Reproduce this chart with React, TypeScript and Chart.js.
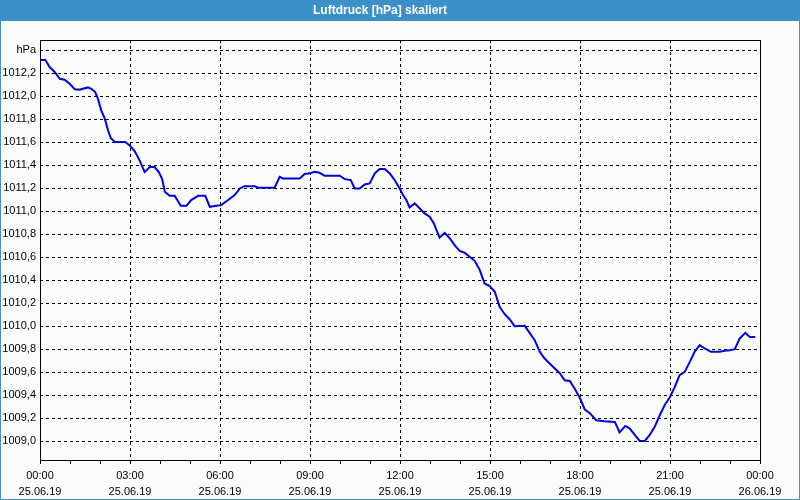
import { useEffect, useRef } from 'react';
import { Chart, registerables } from 'chart.js';

Chart.register(...registerables);

// Time of day in hours (25.06.19 00:00 = 0)
const hours = [
  0.0, 0.18, 0.32, 0.49, 0.66, 0.82, 0.99, 1.16, 1.32, 1.43, 1.6, 1.71, 1.84, 1.93, 2.04, 2.16, 2.27, 2.36, 2.49,
  2.84, 2.99, 3.16, 3.32, 3.49, 3.66, 3.82, 3.96, 4.07, 4.16, 4.32, 4.49, 4.69, 4.88, 5.04, 5.27, 5.51, 5.66,
  5.88, 6.04, 6.27, 6.49, 6.66, 6.82, 7.16, 7.27, 7.82, 7.99, 8.1, 8.66, 8.82, 8.99, 9.16, 9.32, 9.49, 9.99,
  10.16, 10.36, 10.49, 10.66, 10.82, 10.99, 11.16, 11.32, 11.49, 11.66, 11.82, 11.99, 12.1, 12.21, 12.32, 12.49,
  12.66, 12.82, 12.99, 13.13, 13.24, 13.32, 13.49, 13.66, 13.82, 13.99, 14.16, 14.32, 14.49, 14.66, 14.82, 14.99,
  15.16, 15.32, 15.49, 15.66, 15.82, 16.16, 16.32, 16.49, 16.66, 16.82, 16.99, 17.16, 17.32, 17.49, 17.66, 17.82,
  17.99, 18.16, 18.32, 18.54, 18.82, 19.16, 19.32, 19.51, 19.66, 19.84, 19.99, 20.16, 20.32, 20.49, 20.66, 20.82,
  20.99, 21.16, 21.32, 21.49, 21.66, 21.82, 21.99, 22.16, 22.36, 22.66, 22.82, 22.99, 23.16, 23.32, 23.51, 23.66,
  23.84,
];

// Air pressure in hPa
const pressure = [
  1012.313, 1012.313, 1012.252, 1012.209, 1012.15, 1012.142, 1012.107, 1012.058, 1012.055, 1012.064, 1012.075,
  1012.063, 1012.035, 1011.977, 1011.876, 1011.803, 1011.7, 1011.635, 1011.6, 1011.6, 1011.571, 1011.519,
  1011.441, 1011.339, 1011.383, 1011.383, 1011.34, 1011.28, 1011.168, 1011.133, 1011.133, 1011.046, 1011.046,
  1011.096, 1011.133, 1011.133, 1011.037, 1011.046, 1011.052, 1011.096, 1011.139, 1011.197, 1011.217, 1011.217,
  1011.203, 1011.203, 1011.298, 1011.284, 1011.284, 1011.322, 1011.328, 1011.342, 1011.333, 1011.307, 1011.307,
  1011.278, 1011.27, 1011.197, 1011.197, 1011.232, 1011.241, 1011.328, 1011.365, 1011.365, 1011.328, 1011.27,
  1011.197, 1011.139, 1011.096, 1011.032, 1011.067, 1011.023, 1010.98, 1010.951, 1010.893, 1010.82, 1010.771,
  1010.811, 1010.763, 1010.704, 1010.655, 1010.637, 1010.603, 1010.568, 1010.487, 1010.371, 1010.348, 1010.299,
  1010.168, 1010.104, 1010.058, 1010.0, 1010.003, 1009.942, 1009.878, 1009.777, 1009.719, 1009.675, 1009.632,
  1009.594, 1009.53, 1009.524, 1009.458, 1009.38, 1009.276, 1009.246, 1009.183, 1009.174, 1009.168, 1009.076,
  1009.133, 1009.11, 1009.052, 1009.003, 1009.003, 1009.052, 1009.125, 1009.226, 1009.313, 1009.38, 1009.472,
  1009.574, 1009.603, 1009.69, 1009.777, 1009.835, 1009.806, 1009.777, 1009.777, 1009.786, 1009.791, 1009.8,
  1009.893, 1009.942, 1009.907, 1009.907,
];

const tickHours = [0, 3, 6, 9, 12, 15, 18, 21, 24];
const timeLabels = ['00:00', '03:00', '06:00', '09:00', '12:00', '15:00', '18:00', '21:00', '00:00'];
const dateLabels = ['25.06.19', '25.06.19', '25.06.19', '25.06.19', '25.06.19', '25.06.19', '25.06.19', '25.06.19', '26.06.19'];

const titleText = 'Luftdruck [hPa] skaliert';
const unitLabel = 'hPa';
const unitTick = 1012.4;
const yMin = 1008.837;
const yMax = 1012.487;

const BAR = '#3d8fc7';
const BG = '#fafcfa';
const FONT = "'Liberation Sans', Arial, sans-serif";

const framePlugin = {
  id: 'frame',
  beforeDraw(chart: any) {
    const { ctx, width, height } = chart;
    ctx.save();
    ctx.fillStyle = BG;
    ctx.fillRect(0, 0, width, height);
    ctx.fillStyle = BAR;
    ctx.fillRect(0, 0, width, 21);
    ctx.strokeStyle = BAR;
    ctx.lineWidth = 1;
    ctx.strokeRect(0.5, 0.5, width - 1, height - 1);
    ctx.restore();
  },
  beforeDatasetsDraw(chart: any) {
    const { ctx, chartArea } = chart;
    ctx.save();
    ctx.strokeStyle = '#000';
    ctx.lineWidth = 1;
    ctx.setLineDash([]);
    ctx.strokeRect(
      Math.round(chartArea.left) + 0.5,
      Math.round(chartArea.top) + 0.5,
      Math.round(chartArea.right - chartArea.left),
      Math.round(chartArea.bottom - chartArea.top)
    );
    ctx.restore();
  },
};

export default function App() {
  const ref = useRef<HTMLCanvasElement | null>(null);

  useEffect(() => {
    if (!ref.current) return;
    const points = hours.map((h, i) => ({ x: h, y: pressure[i] }));
    const chart = new Chart(ref.current, {
      type: 'line',
      data: {
        datasets: [
          {
            data: points,
            borderColor: '#0000e0',
            borderWidth: 2,
            pointRadius: 0,
            tension: 0,
            fill: false,
          },
        ],
      },
      options: {
        animation: false,
        responsive: false,
        devicePixelRatio: 1,
        layout: { padding: { left: 0, right: 40, top: 0, bottom: 0 } },
        plugins: {
          legend: { display: false },
          tooltip: { enabled: false },
          title: {
            display: true,
            text: titleText,
            color: '#ffffff',
            font: { family: FONT, size: 12, weight: 'bold' },
            padding: { top: 3, bottom: 22.6 },
          },
        },
        scales: {
          x: {
            type: 'linear',
            min: 0,
            max: 24,
            afterFit: (s: any) => {
              s.height = 40;
            },
            ticks: {
              stepSize: 1,
              autoSkip: false,
              maxRotation: 0,
              color: '#000',
              padding: 4,
              font: { family: FONT, size: 11, lineHeight: 1.45 },
              callback: (v: any) => {
                const idx = tickHours.indexOf(Number(v));
                return idx >= 0 ? [timeLabels[idx], dateLabels[idx]] : '';
              },
            },
            grid: {
              color: (c: any) => (c.tick && tickHours.indexOf(c.tick.value) >= 0 && c.tick.value > 0 && c.tick.value < 24 ? '#000' : 'rgba(0,0,0,0)'),
              tickColor: '#000',
              tickLength: 4,
              lineWidth: 1,
            },
            border: { display: false, dash: [3, 3] },
          },
          y: {
            type: 'linear',
            min: yMin,
            max: yMax,
            afterFit: (s: any) => {
              s.width = 40;
            },
            ticks: {
              stepSize: 0.2,
              includeBounds: false,
              color: '#000',
              padding: 4,
              font: { family: FONT, size: 11 },
              callback: (v: any) => {
                const n = Number(v);
                if (Math.abs(n - unitTick) < 1e-6) return unitLabel;
                return n.toFixed(1).replace('.', ',');
              },
            },
            grid: {
              color: '#000',
              drawTicks: false,
              lineWidth: 1,
            },
            border: { display: false, dash: [3, 3] },
          },
        },
      },
      plugins: [framePlugin],
    } as any);
    return () => chart.destroy();
  }, []);

  return (
    <div style={{ position: 'fixed', left: 0, top: 0, width: 800, height: 500 }}>
      <canvas ref={ref} width={800} height={500} style={{ display: 'block', width: 800, height: 500 }} />
    </div>
  );
}
